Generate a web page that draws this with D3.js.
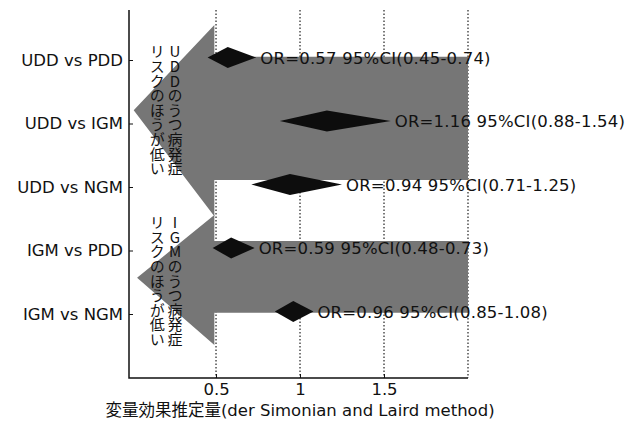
<!DOCTYPE html>
<html lang="ja">
<head>
  <meta charset="UTF-8">
  <title>Forest plot</title>
  <style type="text/css">
    body{
      margin: 0;
      background: #fff;
    }
    .label{
      font-family: "DejaVu Sans", "Noto Sans CJK JP", sans-serif;
      font-size: 16.5px;
      fill: #111;
    }
    .orlabel{
      letter-spacing: 0.2px;
    }
    .axis text{
      font-family: "DejaVu Sans", sans-serif;
      font-size: 16.5px;
      fill: #111;
    }
    .axis line{
      stroke: #111;
    }
    .note{
      font-family: "Noto Sans CJK JP", sans-serif;
      font-size: 15px;
      fill: #111;
      writing-mode: vertical-rl;
      text-orientation: upright;
      letter-spacing: -0.4px;
    }
    .grid{
      stroke: #222;
      stroke-width: 1.2px;
      stroke-dasharray: 1.5,2;
    }
  </style>
  <script type="text/javascript" src="https://d3js.org/d3.v7.min.js"></script>
</head>
<body>
<script type="text/javascript">
  // comparisons and pooled estimates
  var categories = ['UDD vs PDD', 'UDD vs IGM', 'UDD vs NGM', 'IGM vs PDD', 'IGM vs NGM'];
  var oddsRatio = [0.57, 1.16, 0.94, 0.59, 0.96];
  var ciLow  = [0.45, 0.88, 0.71, 0.48, 0.85];
  var ciHigh = [0.74, 1.54, 1.25, 0.73, 1.08];
  var xTicks = [0.5, 1, 1.5];
  var gridValues = [0.5, 1, 1.5, 2];
  var axisTitle = '変量効果推定量(der Simonian and Laird method)';

  // the two big left arrows (x in OR units, y in row units)
  var arrowTip    = [0.01, 0.03];
  var arrowBase   = [0.49, 0.49];
  var arrowEnd    = [2, 2];
  var headTop     = [-0.55, 2.44];
  var tipRow      = [0.79, 3.43];
  var headBottom  = [2.46, 4.49];
  var bodyTop     = [-0.05, 2.85];
  var bodyBottom  = [1.89, 3.98];
  var noteRight   = ['UDDのうつ病発症', 'IGMのうつ病発症'];
  var noteLeft    = ['リスクのほうが低い', 'リスクのほうが低い'];
  var noteTopRow  = [-0.25, 2.44];

  var width = 634, height = 423;
  var plotTop = 10, plotBottom = 378;

  var svg = d3.select('body')
    .append('svg')
    .attr('width', width)
    .attr('height', height);

  var xScale = d3.scaleLinear()
    .domain([-0.018, 2])
    .range([129, 468]);

  var yScale = d3.scalePoint()
    .domain(categories)
    .range([60, 314]);

  var rowScale = d3.scaleLinear()
    .domain([0, categories.length - 1])
    .range([60, 314]);

  // dotted reference lines
  svg.selectAll('.grid')
    .data(gridValues)
    .enter().append('line')
    .attr('class', 'grid')
    .attr('x1', function(d){ return xScale(d); })
    .attr('x2', function(d){ return xScale(d); })
    .attr('y1', plotTop)
    .attr('y2', plotBottom);

  // arrows
  var line = d3.line();
  var arrows = arrowTip.map(function(t, i){
    return [
      [xScale(arrowBase[i]), rowScale(headTop[i])],
      [xScale(t), rowScale(tipRow[i])],
      [xScale(arrowBase[i]), rowScale(headBottom[i])],
      [xScale(arrowBase[i]), rowScale(bodyBottom[i])],
      [xScale(arrowEnd[i]), rowScale(bodyBottom[i])],
      [xScale(arrowEnd[i]), rowScale(bodyTop[i])],
      [xScale(arrowBase[i]), rowScale(bodyTop[i])]
    ];
  });

  svg.selectAll('.arrow')
    .data(arrows)
    .enter().append('path')
    .attr('class', 'arrow')
    .attr('d', function(d){ return line(d) + 'Z'; })
    .style('fill', '#767676');

  // vertical notes inside the arrow heads
  function verticalText(str, x, top){
    svg.append('text')
      .attr('class', 'note')
      .attr('x', x)
      .attr('y', top)
      .text(str);
  }
  noteRight.forEach(function(s, i){
    verticalText(s, xScale(0.256), rowScale(noteTopRow[i]));
    verticalText(noteLeft[i], xScale(0.15), rowScale(noteTopRow[i]));
  });

  // diamonds
  var h = 10.5;
  svg.selectAll('.diamond')
    .data(categories)
    .enter().append('path')
    .attr('class', 'diamond')
    .attr('d', function(d, i){
      var yc = yScale(d) - 2.5;
      return line([
        [xScale(ciLow[i]), yc],
        [xScale(oddsRatio[i]), yc - h],
        [xScale(ciHigh[i]), yc],
        [xScale(oddsRatio[i]), yc + h]
      ]) + 'Z';
    })
    .style('fill', '#0d0d0d');

  svg.selectAll('.orlabel')
    .data(categories)
    .enter().append('text')
    .attr('class', 'label orlabel')
    .attr('x', function(d, i){ return xScale(ciHigh[i]) + 4; })
    .attr('y', function(d){ return yScale(d) - 2; })
    .attr('dy', '0.35em')
    .text(function(d, i){
      return 'OR=' + oddsRatio[i].toFixed(2) + ' 95%CI(' +
        ciLow[i].toFixed(2) + '-' + ciHigh[i].toFixed(2) + ')';
    });

  // axes
  var yAxis = d3.axisLeft(yScale)
    .tickSize(-4)
    .tickPadding(6);

  svg.append('g')
    .attr('class', 'y axis')
    .attr('transform', 'translate(' + xScale.range()[0] + ',0)')
    .call(yAxis)
    .call(function(g){ g.select('.domain').remove(); });

  var xAxis = d3.axisBottom(xScale)
    .tickValues(xTicks)
    .tickFormat(d3.format('~g'))
    .tickSize(-4)
    .tickPadding(5);

  svg.append('g')
    .attr('class', 'x axis')
    .attr('transform', 'translate(0,' + plotBottom + ')')
    .call(xAxis)
    .call(function(g){ g.select('.domain').remove(); });

  svg.append('path')
    .attr('d', line([
      [xScale.range()[0], plotTop],
      [xScale.range()[0], plotBottom],
      [xScale.range()[1], plotBottom]
    ]))
    .style('fill', 'none')
    .style('stroke', '#111')
    .style('stroke-width', 1.5);

  svg.append('text')
    .attr('class', 'label')
    .attr('x', xScale(1))
    .attr('y', 416)
    .attr('text-anchor', 'middle')
    .text(axisTitle);
</script>
</body>
</html>
